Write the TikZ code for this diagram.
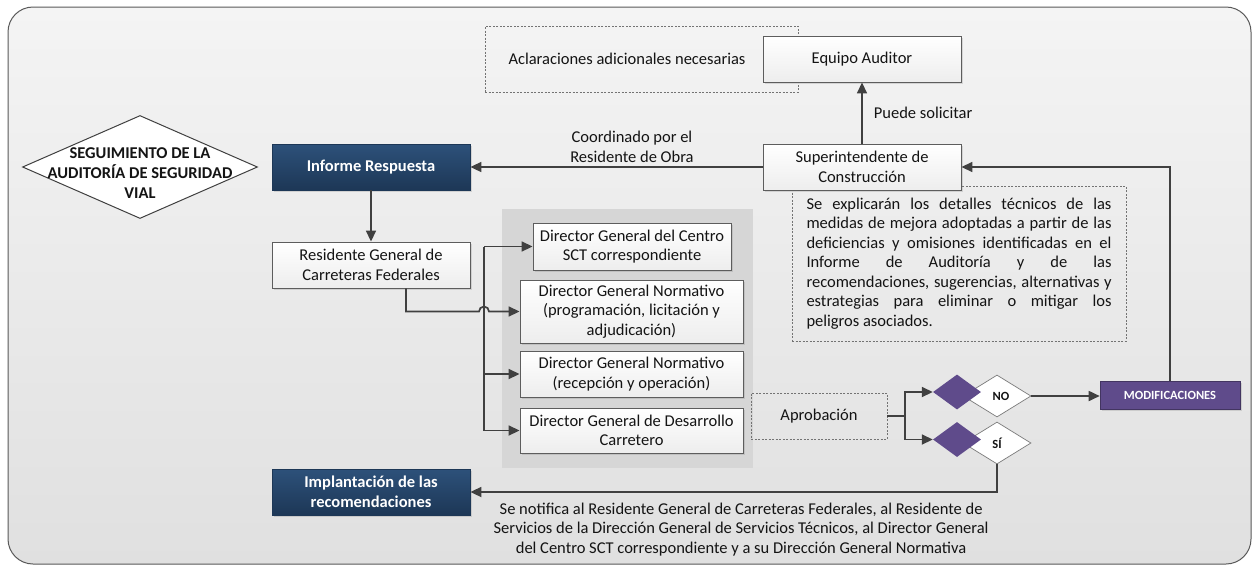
\documentclass[tikz,border=0pt]{standalone}
\usepackage{fontspec}
\setmainfont{Carlito}
\usetikzlibrary{shapes.geometric,arrows.meta,shadows,calc}
\definecolor{navyA}{HTML}{2D517A}
\definecolor{navyB}{HTML}{1D3756}
\definecolor{purp}{HTML}{5F4B8B}
\definecolor{edge}{HTML}{404040}
\definecolor{frameT}{HTML}{F4F4F4}
\definecolor{frameB}{HTML}{E0E0E0}
\begin{document}
\begin{tikzpicture}[x=1pt,y=-1pt,
  base/.style={font=\fontsize{16.5}{19.5}\selectfont, align=center, inner sep=0pt, text=black!92},
  shad/.style={drop shadow={opacity=0.25,shadow xshift=1.5pt,shadow yshift=-1.5pt}},
  wbox/.style={base, draw=edge!85, line width=0.9pt, top color=white, bottom color=black!7, shad},
  nbox/.style={base, font=\bfseries\fontsize{16.5}{19.5}\selectfont, text=white, top color=navyA, bottom color=navyB, draw=navyB, line width=0.8pt, shad},
  dbox/.style={draw=black!55, dash pattern=on 2pt off 1.5pt, line width=0.8pt},
  conn/.style={draw=edge, line width=1.7pt, -{Triangle[length=11pt,width=10pt]}},
  plain/.style={draw=edge, line width=1.7pt},
  dec/.style={diamond, inner sep=0pt, aspect=1},
]
\useasboundingbox (0,0) rectangle (1254,566);
% outer frame
\draw[draw=black!65, line width=1pt, rounded corners=25pt, top color=frameT, bottom color=frameB] (8,7) rectangle (1251,564);

% left diamond
\node[dec, draw=edge, line width=1pt, fill=white, minimum width=235, minimum height=103,
  label={[base, font=\bfseries\fontsize{16.5}{20}\selectfont, yshift=-6pt]center:SEGUIMIENTO DE LA\\AUDITORÍA DE SEGURIDAD\\VIAL}] (seg) at (140,167) {};

% top area
\node[dbox, minimum width=313, minimum height=66, inner sep=0pt,
  label={[base, xshift=-14.5pt]center:Aclaraciones adicionales necesarias}] (acl) at (641.5,59) {};
\node[wbox, minimum width=198, minimum height=46] (eq) at (862,59) {Equipo Auditor};

\node[dbox, base, minimum width=334, minimum height=155] (exp) at (959,263.5) {\vbox{%
\hbox to 305pt{Se explicarán los detalles técnicos de las}%
\hbox to 305pt{medidas de mejora adoptadas a partir de las}%
\hbox to 305pt{deficiencias y omisiones identificadas en el}%
\hbox to 305pt{Informe de Auditoría y de las}%
\hbox to 305pt{recomendaciones, sugerencias, alternativas y}%
\hbox to 305pt{estrategias para eliminar o mitigar los}%
\hbox to 305pt{peligros asociados.\hfil}}};
\node[wbox, minimum width=198, minimum height=46] (sup) at (862,167) {Superintendente de\\Construcción};

\node[nbox, minimum width=198, minimum height=46] (inf) at (371,167) {Informe Respuesta};
\node[wbox, minimum width=198, minimum height=46] (res) at (371,265) {Residente General de\\Carreteras Federales};
\node[nbox, minimum width=198, minimum height=46] (imp) at (371,492) {Implantación de las\\recomendaciones};

% panel of directors
\node[fill=black!16, minimum width=251, minimum height=259, inner sep=0pt] (panel) at (627.5,338.5) {};
\node[wbox, minimum width=198, minimum height=47] (d1) at (632,246.5) {Director General del Centro\\SCT correspondiente};
\node[wbox, minimum width=223, minimum height=63] (d2) at (631.5,311.5) {Director General Normativo\\(programación, licitación y\\adjudicación)};
\node[wbox, minimum width=223, minimum height=46] (d3) at (631.5,374) {Director General Normativo\\(recepción y operación)};
\node[wbox, minimum width=223, minimum height=45] (d4) at (631.5,430.5) {Director General de Desarrollo\\Carretero};

% approval and decisions
\node[dbox, base, minimum width=136, minimum height=46] (apr) at (819,416) {Aprobación};
\node[dec, draw=edge!70, line width=0.7pt, fill=white, minimum width=68, minimum height=42,
  label={[base, font=\bfseries\fontsize{12.5}{14}\selectfont, xshift=4pt]center:NO}] (wno) at (997,396) {};
\node[dec, fill=purp, minimum width=48, minimum height=35] (pno) at (957,392) {};
\node[dec, draw=edge!70, line width=0.7pt, fill=white, minimum width=68, minimum height=42,
  label={[base, font=\bfseries\fontsize{12.5}{14}\selectfont]center:SÍ}] (wsi) at (997,443) {};
\node[dec, fill=purp, minimum width=48, minimum height=35] (psi) at (957,439.5) {};

\node[base, font=\bfseries\fontsize{12.5}{15}\selectfont, text=white, fill=purp, draw=purp!70!black, line width=0.6pt, minimum width=140, minimum height=28, shad] (mod) at (1170,395) {MODIFICACIONES};

% connectors
\draw[conn] (inf.south) -- (res.north);
\draw[conn] (sup.west) -- node[base, pos=0.447, above=4pt] {Coordinado por el\\Residente de Obra} (inf.east);
\draw[conn] (sup.north) -- node[base, right=11pt] {Puede solicitar} (eq.south);
\draw[conn] (mod.north) |- (sup.east);
\draw[conn] (wno.east) -- (wno.east -| mod.west);
\coordinate (sp) at (905,416);
\draw[plain] (apr.east) -- (sp);
\draw[conn] (sp) |- (pno.west);
\draw[conn] (sp) |- (psi.west);
\draw[conn] (wsi.south) |- node[base, pos=0.743, below=10pt] {Se notifica al Residente General de Carreteras Federales, al Residente de\\Servicios de la Dirección General de Servicios Técnicos, al Director General\\del Centro SCT correspondiente y a su Dirección General Normativa} (imp.east);

% bus to directors
\coordinate (bx) at (484,0);
\coordinate (r0) at ($(res.south)+(35,0)$);
\draw[plain] (bx |- d1.west) -- (bx |- d4.west);
\draw[conn] (bx |- d1.west) -- (d1.west);
\draw[conn] (bx |- d3.west) -- (d3.west);
\draw[conn] (bx |- d4.west) -- (d4.west);
\draw[conn] (r0) |- ($(bx |- d2.west)+(-5,0)$) arc[start angle=180, end angle=360, radius=5] -- (d2.west);
\end{tikzpicture}
\end{document}
